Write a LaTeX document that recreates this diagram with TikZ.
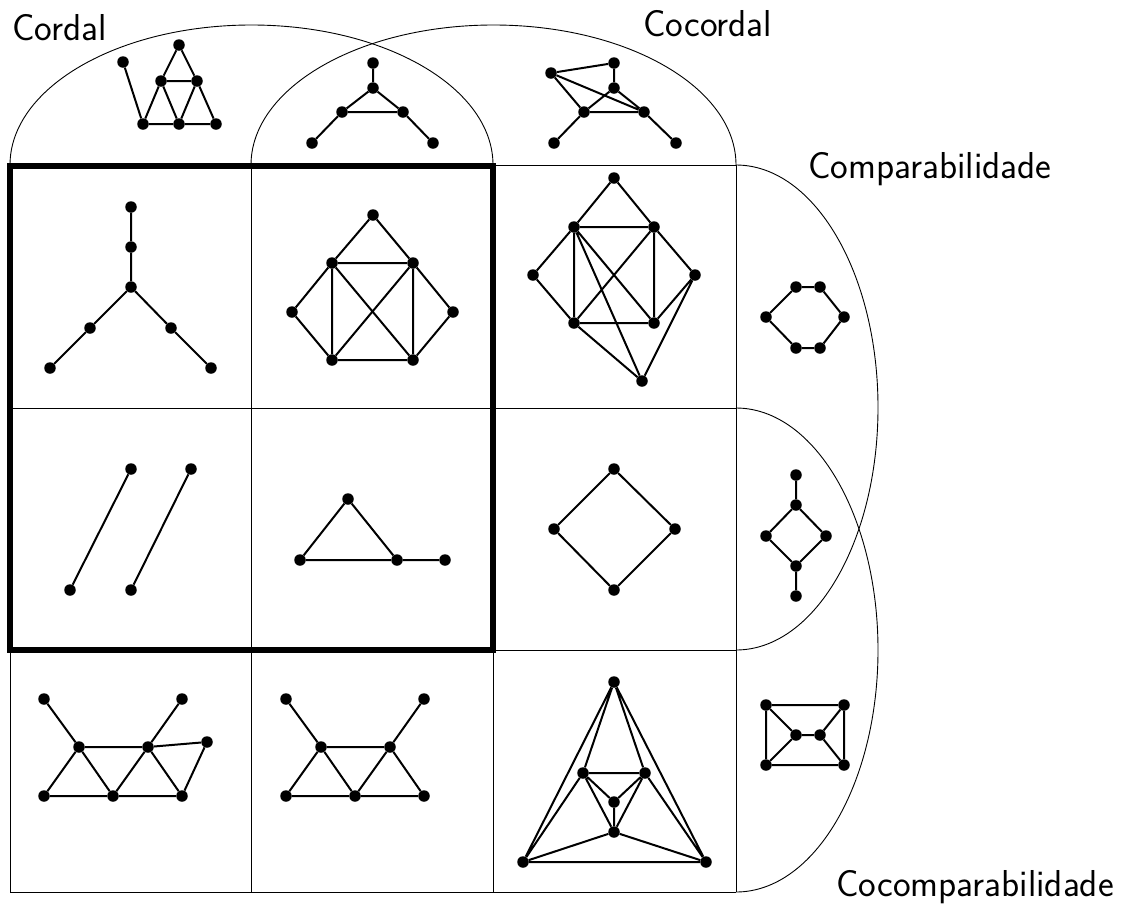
\documentclass[tikz,border=0pt]{standalone}
\begin{document}
\begin{tikzpicture}[x=1pt,y=-1pt,
 v/.style={circle,fill=black,inner sep=0pt,minimum size=11.5pt},
 e/.style={line width=2pt},
 frame/.style={line width=0.9pt},
 bold/.style={line width=5.5pt},
 lab/.style={font=\fontsize{37.5}{42}\selectfont\sffamily,inner sep=0pt,anchor=base west}]
\useasboundingbox (0,0) rectangle (1135,911);
% class outlines
\draw[frame] (10,165) arc[start angle=180,end angle=360,x radius=241.5,y radius=140];
\draw[frame] (251,165) arc[start angle=180,end angle=360,x radius=242.5,y radius=140];
\draw[frame] (736,165) arc[start angle=-90,end angle=90,x radius=142,y radius=242.5];
\draw[frame] (736,408) arc[start angle=-90,end angle=90,x radius=142,y radius=242];
% grid
\draw[frame] (10,165) -- (736,165) (10,408) -- (736,408) (10,650) -- (736,650) (10,892) -- (736,892);
\draw[frame] (10,165) -- (10,892) (251,165) -- (251,892) (493,165) -- (493,892) (736,165) -- (736,892);
\draw[bold] (10,166) rectangle (493,650);
% labels
\node[lab] (tcordal) at (12,40) {Cordal};
\node[lab] (tcocordal) at (643,36) {Cocordal};
\node[lab] (tcomp) at (808,178) {Comparabilidade};
\node[lab] (tcocomp) at (836,896) {Cocomparabilidade};
% A
\node[v] (A1) at (123,62) {}; \node[v] (A2) at (179,45) {}; \node[v] (A3) at (161,81) {};
\node[v] (A4) at (197,81) {}; \node[v] (A5) at (143,124) {}; \node[v] (A6) at (179,124) {};
\node[v] (A7) at (216,124) {};
\draw[e] (A1)--(A5) (A2)--(A3) (A2)--(A4) (A3)--(A4) (A3)--(A5) (A3)--(A6) (A4)--(A6) (A4)--(A7) (A5)--(A6) (A6)--(A7);
% B
\node[v] (B1) at (373,63) {}; \node[v] (B2) at (373,88) {}; \node[v] (B3) at (342,112) {};
\node[v] (B4) at (403,112) {}; \node[v] (B5) at (312,143) {}; \node[v] (B6) at (433,143) {};
\draw[e] (B1)--(B2) (B2)--(B3) (B2)--(B4) (B3)--(B4) (B3)--(B5) (B4)--(B6);
% C
\node[v] (C1) at (551,73) {}; \node[v] (C2) at (614,63) {}; \node[v] (C3) at (614,88) {};
\node[v] (C4) at (584,112) {}; \node[v] (C5) at (644,112) {}; \node[v] (C6) at (554,143) {};
\node[v] (C7) at (676,143) {};
\draw[e] (C1)--(C2) (C2)--(C3) (C1)--(C4) (C1)--(C5) (C3)--(C4) (C3)--(C5) (C4)--(C5) (C4)--(C6) (C5)--(C7);
% D
\node[v] (D1) at (131,207) {}; \node[v] (D2) at (131,247) {}; \node[v] (D3) at (131,287) {};
\node[v] (D4) at (90,328) {}; \node[v] (D5) at (171,328) {}; \node[v] (D6) at (50,368) {};
\node[v] (D7) at (211,368) {};
\draw[e] (D1)--(D2) (D2)--(D3) (D3)--(D4) (D4)--(D6) (D3)--(D5) (D5)--(D7);
% E
\node[v] (E1) at (373,215) {}; \node[v] (E2) at (332,263) {}; \node[v] (E3) at (413,263) {};
\node[v] (E4) at (292,312) {}; \node[v] (E5) at (453,312) {}; \node[v] (E6) at (332,360) {};
\node[v] (E7) at (413,360) {};
\draw[e] (E1)--(E2) (E1)--(E3) (E2)--(E3) (E2)--(E4) (E3)--(E5) (E4)--(E6) (E5)--(E7) (E2)--(E6) (E3)--(E7) (E6)--(E7) (E2)--(E7) (E3)--(E6);
% F
\node[v] (F1) at (614,178) {}; \node[v] (F2) at (574,227) {}; \node[v] (F3) at (654,227) {};
\node[v] (F4) at (533,275) {}; \node[v] (F5) at (695,275) {}; \node[v] (F6) at (574,323) {};
\node[v] (F7) at (654,323) {}; \node[v] (F8) at (642,381) {};
\draw[e] (F1)--(F2) (F1)--(F3) (F2)--(F3) (F2)--(F4) (F3)--(F5) (F4)--(F6) (F5)--(F7) (F2)--(F6) (F3)--(F7) (F6)--(F7) (F2)--(F7) (F3)--(F6) (F2)--(F8) (F6)--(F8) (F5)--(F8);
% G
\node[v] (G1) at (766,317) {}; \node[v] (G2) at (796,287) {}; \node[v] (G3) at (820,287) {};
\node[v] (G4) at (844,317) {}; \node[v] (G5) at (820,348) {}; \node[v] (G6) at (796,348) {};
\draw[e] (G1)--(G2) (G2)--(G3) (G3)--(G4) (G4)--(G5) (G5)--(G6) (G6)--(G1);
% H
\node[v] (H1) at (131,469) {}; \node[v] (H2) at (70,590) {}; \node[v] (H3) at (191,469) {}; \node[v] (H4) at (131,590) {};
\draw[e] (H1)--(H2) (H3)--(H4);
% I
\node[v] (I1) at (348,499) {}; \node[v] (I2) at (300,560) {}; \node[v] (I3) at (397,560) {}; \node[v] (I4) at (445,560) {};
\draw[e] (I1)--(I2) (I1)--(I3) (I2)--(I3) (I3)--(I4);
% J
\node[v] (J1) at (614,469) {}; \node[v] (J2) at (554,529) {}; \node[v] (J3) at (675,529) {}; \node[v] (J4) at (614,590) {};
\draw[e] (J1)--(J2) (J2)--(J4) (J4)--(J3) (J3)--(J1);
% K
\node[v] (K1) at (796,475) {}; \node[v] (K2) at (796,505) {}; \node[v] (K3) at (766,536) {};
\node[v] (K4) at (826,536) {}; \node[v] (K5) at (796,566) {}; \node[v] (K6) at (796,596) {};
\draw[e] (K1)--(K2) (K2)--(K3) (K2)--(K4) (K3)--(K5) (K4)--(K5) (K5)--(K6);
% L
\node[v] (L1) at (44,699) {}; \node[v] (L2) at (79,747) {}; \node[v] (L3) at (148,747) {};
\node[v] (L4) at (182,699) {}; \node[v] (L5) at (207,742) {}; \node[v] (L6) at (44,796) {};
\node[v] (L7) at (113,796) {}; \node[v] (L8) at (182,796) {};
\draw[e] (L1)--(L2) (L2)--(L3) (L3)--(L4) (L3)--(L5) (L5)--(L8) (L2)--(L6) (L2)--(L7) (L3)--(L7) (L3)--(L8) (L6)--(L7) (L7)--(L8);
% M
\node[v] (M1) at (286,699) {}; \node[v] (M2) at (321,747) {}; \node[v] (M3) at (390,747) {};
\node[v] (M4) at (424,699) {}; \node[v] (M5) at (286,796) {}; \node[v] (M6) at (355,796) {};
\node[v] (M7) at (424,796) {};
\draw[e] (M1)--(M2) (M2)--(M3) (M3)--(M4) (M2)--(M5) (M2)--(M6) (M3)--(M6) (M3)--(M7) (M5)--(M6) (M6)--(M7);
% N
\node[v] (N1) at (614,682) {}; \node[v] (N2) at (583,773) {}; \node[v] (N3) at (645,773) {};
\node[v] (N4) at (614,802) {}; \node[v] (N5) at (614,832) {}; \node[v] (N6) at (523,862) {};
\node[v] (N7) at (706,862) {};
\draw[e] (N1)--(N6) (N1)--(N7) (N1)--(N2) (N1)--(N3) (N2)--(N3) (N2)--(N4) (N3)--(N4) (N4)--(N5) (N2)--(N5) (N3)--(N5) (N2)--(N6) (N3)--(N7) (N5)--(N6) (N5)--(N7) (N6)--(N7);
% P
\node[v] (P1) at (766,705) {}; \node[v] (P2) at (844,705) {}; \node[v] (P3) at (766,765) {};
\node[v] (P4) at (844,765) {}; \node[v] (P5) at (796,735) {}; \node[v] (P6) at (820,735) {};
\draw[e] (P1)--(P2) (P1)--(P3) (P2)--(P4) (P3)--(P4) (P1)--(P5) (P3)--(P5) (P5)--(P6) (P6)--(P2) (P6)--(P4);
\end{tikzpicture}
\end{document}
